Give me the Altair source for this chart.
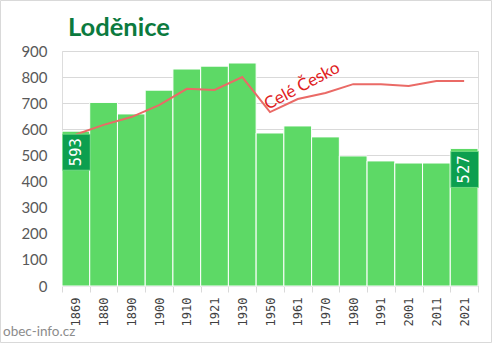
import altair as alt
import pandas as pd

years = ["1869", "1880", "1890", "1900", "1910", "1921", "1930", "1950",
         "1961", "1970", "1980", "1991", "2001", "2011", "2021"]
population = [593, 703, 659, 750, 831, 842, 854, 586, 613, 571, 498, 479, 471, 471, 527]
czech_scaled = [580, 617, 647, 693, 755, 751, 800, 666, 716, 739, 773, 773, 766, 785, 785]
labelled_years = ["1869", "2021"]
y_ticks = [0, 100, 200, 300, 400, 500, 600, 700, 800, 900]

df = pd.DataFrame({"year": years, "pop": population, "cz": czech_scaled})
df_lab = df[df["year"].isin(labelled_years)].copy()
df_lab["low"] = df_lab["pop"] - 138
df_lab["mid"] = df_lab["pop"] - 69

W, H = 416, 235
sort = years

x = alt.X("year:N", sort=sort,
          scale=alt.Scale(paddingInner=0, paddingOuter=0),
          axis=alt.Axis(title=None, labelAngle=-90, labelFont="DejaVu Sans Mono",
                        labelFontSize=12, labelColor="#404040", labelPadding=5,
                        tickBand="extent", tickColor="#d9d9d9", tickSize=6,
                        domainColor="#d9d9d9", labelBaseline="middle", labelAlign="right"))
yscale = alt.Scale(domain=[0, 900], nice=False)
yaxis = alt.Axis(title=None, values=y_ticks, tickCount=10, grid=True, gridColor="#d9d9d9",
                 domain=False, ticks=False, labelPadding=15, labelOverlap=False,
                 labelFont="Lato", labelFontSize=15, labelColor="#595959")


def Y(field):
    return alt.Y(field, scale=yscale, axis=yaxis)


base = alt.Chart(df)

bars = base.mark_bar(color="#5dd966", stroke="white", strokeWidth=1).encode(x=x, y=Y("pop:Q"))

line = base.mark_line(color="#ea6a66", strokeWidth=2).encode(
    x=alt.X("year:N", sort=sort), y=Y("cz:Q"))

boxes = alt.Chart(df_lab).mark_rect(color="#0c9f4f", stroke="#7fe08a", strokeWidth=0.8,
                                    yOffset=3, y2Offset=3, xOffset=0.5, x2Offset=-0.5).encode(
    x=alt.X("year:N", sort=sort), y=Y("pop:Q"), y2="low:Q")

box_text = alt.Chart(df_lab).mark_text(color="white", angle=270, font="DejaVu Sans Mono",
                                       fontSize=15.5, align="center", baseline="middle",
                                       yOffset=3).encode(
    x=alt.X("year:N", sort=sort), y=Y("mid:Q"), text="pop:Q")

cz_label = pd.DataFrame({"year": ["1961"], "v": [756], "t": ["Celé Česko"]})
cz_text = alt.Chart(cz_label).mark_text(color="#e0201c", angle=332, font="Lato",
                                        fontSize=17, align="center", baseline="middle",
                                        dx=5).encode(
    x=alt.X("year:N", sort=sort), y=Y("v:Q"), text="t:N")

src = alt.Chart(pd.DataFrame({"t": ["obec-info.cz"]})).mark_text(
    color="#8c8c8c", font="Lato", fontSize=13.5, align="left", baseline="alphabetic").encode(
    x=alt.value(-59), y=alt.value(H + 50), text="t:N")

ttl = alt.Chart(pd.DataFrame({"t": ["Loděnice"]})).mark_text(
    color="#0b7a3e", font="Lato", fontSize=25.5, fontWeight="bold", align="left",
    baseline="alphabetic").encode(
    x=alt.value(6), y=alt.value(-15), text="t:N")

frame = alt.Chart(pd.DataFrame({"a": [0]})).mark_rect(
    fill=None, stroke="#d9d9d9", strokeWidth=1).encode(
    x=alt.value(-61.5), x2=alt.value(W + 13.5), y=alt.value(-50.5), y2=alt.value(H + 56.5))

chart = alt.layer(bars, line, boxes, box_text, cz_text, src, ttl, frame).properties(
    width=W, height=H,
    autosize=alt.AutoSizeParams(type="none"),
    padding={"left": 62, "top": 51, "right": 14, "bottom": 57},
).configure_view(stroke=None).configure(background="white")

chart.save("out.html", embed_options={"renderer": "svg", "actions": False})
